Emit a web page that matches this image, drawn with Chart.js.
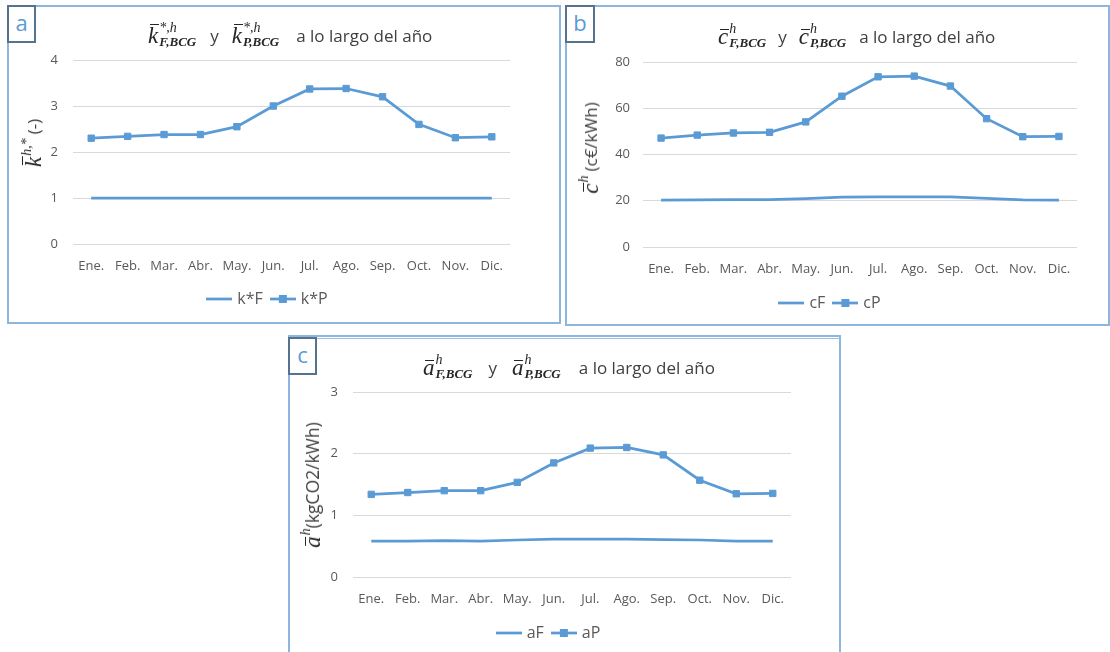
<!DOCTYPE html>
<html>
<head>
<meta charset="utf-8">
<script src="https://cdn.jsdelivr.net/npm/chart.js@4.4.1/dist/chart.umd.min.js"></script>
<style>
  body { margin: 0; width: 1110px; height: 652px; background: #fff; position: relative; overflow: hidden; font-family: 'Open Sans', sans-serif; }
  .panel { position: absolute; box-sizing: border-box; border: 2px solid #8db6df; }
  .tag { position: absolute; box-sizing: border-box; border: 2px solid #55728f; background: #fff; color: #5b9bd5; font-size: 22px; text-align: center; line-height: 31px; }
  canvas { position: absolute; }
  .title { position: absolute; height: 30px; display: flex; align-items: center; white-space: nowrap; color: #404040; font-size: 17px; }
  .ytitle { position: absolute; display: flex; align-items: center; white-space: nowrap; color: #404040; font-size: 17px; transform: translate(-50%, -50%) rotate(-90deg); }
  .m { font-family: 'Liberation Serif', serif; font-style: italic; font-size: 23px; line-height: 23px; position: relative; color: #262626; }
  .bar::before { content: ''; position: absolute; left: 2px; width: 9px; border-top: 1.6px solid #262626; }
  .bk::before { top: 0px; }
  .bc::before { top: 4px; }
  .ss { display: inline-flex; flex-direction: column; font-family: 'Liberation Serif', serif; font-style: italic; font-size: 14px; line-height: 14px; margin-left: 1px; color: #262626; }
  .ss .sub { font-weight: bold; font-size: 13px; }
  .sep { margin: 0 12px; }
</style>
</head>
<body>

<div class="panel" style="left:7px; top:5px; width:554px; height:319px;"></div>
<div class="panel" style="left:565px; top:5px; width:545px; height:321px;"></div>
<div class="panel" style="left:288px; top:335px; width:553px; height:330px;"></div>
<div style="position:absolute; left:288px; top:338px; width:553px; border-top:1px solid #9dbfe0;"></div>

<canvas id="chartA" width="553" height="318" style="left:7px; top:5px;"></canvas>
<canvas id="chartB" width="544" height="320" style="left:565px; top:5px;"></canvas>
<canvas id="chartC" width="552" height="317" style="left:288px; top:335px;"></canvas>

<div class="tag" style="left:7px; top:5px; width:29px; height:38px;">a</div>
<div class="tag" style="left:565px; top:5px; width:30px; height:38px;">b</div>
<div class="tag" style="left:288px; top:337px; width:29px; height:38px;">c</div>

<div class="title" style="left:148px; top:20px;">
  <span class="m bar bk">k</span><span class="ss"><span>*,h</span><span class="sub">F,BCG</span></span>
  <span class="sep" style="margin:0 13px 0 14px;">y</span>
  <span class="m bar bk">k</span><span class="ss"><span>*,h</span><span class="sub">P,BCG</span></span>
  <span style="margin-left:17px;">a lo largo del año</span>
</div>
<div class="title" style="left:718px; top:21px;">
  <span class="m bar bc">c</span><span class="ss"><span>h</span><span class="sub">F,BCG</span></span>
  <span class="sep">y</span>
  <span class="m bar bc">c</span><span class="ss"><span>h</span><span class="sub">P,BCG</span></span>
  <span style="margin-left:13px;">a lo largo del año</span>
</div>
<div class="title" style="left:423px; top:352px;">
  <span class="m bar bc">a</span><span class="ss"><span>h</span><span class="sub">F,BCG</span></span>
  <span class="sep" style="margin:0 15px 0 16px;">y</span>
  <span class="m bar bc">a</span><span class="ss"><span>h</span><span class="sub">P,BCG</span></span>
  <span style="margin-left:18px;">a lo largo del año</span>
</div>

<div class="ytitle" style="left:33px; top:143px;">
  <span class="m bar bk">k</span><span class="ss" style="margin-bottom:12px;"><span>h,*</span></span>
  <span style="margin-left:4px;">(-)</span>
</div>
<div class="ytitle" style="left:590px; top:148px;">
  <span class="m bar bc">c</span><span class="ss" style="margin-bottom:12px;"><span>h</span></span>
  <span style="margin-left:4px;">(c€/kWh)</span>
</div>
<div class="ytitle" style="left:312px; top:485px; font-size:17.5px;">
  <span class="m bar bc">a</span><span class="ss" style="margin-bottom:12px;"><span>h</span></span>
  <span>(kgCO2/kWh)</span>
</div>

<script>
// datos
const months = ['Ene.', 'Feb.', 'Mar.', 'Abr.', 'May.', 'Jun.', 'Jul.', 'Ago.', 'Sep.', 'Oct.', 'Nov.', 'Dic.'];

const kF = [1, 1, 1, 1, 1, 1, 1, 1, 1, 1, 1, 1];
const kP = [2.3, 2.34, 2.38, 2.38, 2.55, 3.0, 3.37, 3.38, 3.2, 2.6, 2.31, 2.33];

const cF = [20.3, 20.4, 20.5, 20.5, 20.9, 21.6, 21.7, 21.7, 21.7, 21.0, 20.4, 20.3];
const cP = [47.1, 48.4, 49.3, 49.6, 54.1, 65.2, 73.6, 73.9, 69.6, 55.5, 47.7, 47.8];

const aF = [0.58, 0.58, 0.59, 0.58, 0.6, 0.615, 0.615, 0.615, 0.605, 0.6, 0.58, 0.58];
const aP = [1.34, 1.37, 1.4, 1.4, 1.535, 1.85, 2.09, 2.1, 1.98, 1.57, 1.35, 1.355];

const blue = '#5b9bd5';
const grey = '#595959';

function legendIcon(withMarker) {
  const c = document.createElement('canvas');
  c.width = 26;
  c.height = 10;
  const g = c.getContext('2d');
  g.strokeStyle = blue;
  g.lineWidth = 2.75;
  g.beginPath();
  g.moveTo(0, 5);
  g.lineTo(26, 5);
  g.stroke();
  if (withMarker) {
    g.fillStyle = blue;
    g.fillRect(9, 1, 8, 8);
  }
  return c;
}
const icons = [legendIcon(false), legendIcon(true)];

function makeChart(id, names, fData, pData, yMax, yStep, lay) {
  const ctx = document.getElementById(id).getContext('2d');
  return new Chart(ctx, {
    type: 'line',
    data: {
      labels: months,
      datasets: [
        { label: names[0], data: fData, borderColor: blue, backgroundColor: blue, borderWidth: 2.75, pointRadius: 0 },
        { label: names[1], data: pData, borderColor: blue, backgroundColor: blue, borderWidth: 2.75,
          pointStyle: 'rect', pointRadius: 4.5, pointBorderWidth: 1 }
      ]
    },
    options: {
      responsive: false,
      animation: false,
      // el padding izquierdo solo desplaza la leyenda; el eje y ocupa el resto
      layout: { padding: { left: 20, right: lay.right, top: lay.top, bottom: lay.bottom } },
      plugins: {
        tooltip: { enabled: false },
        legend: {
          position: 'bottom',
          labels: {
            usePointStyle: true,
            pointStyleWidth: 20,
            padding: 10,
            color: grey,
            font: { family: 'Open Sans', size: 16 },
            generateLabels: chart => chart.data.datasets.map((ds, i) => ({
              text: ds.label, pointStyle: icons[i], fillStyle: blue, strokeStyle: blue,
              lineWidth: 0, hidden: false, datasetIndex: i, fontColor: grey
            }))
          }
        }
      },
      scales: {
        x: {
          offset: true,
          grid: { display: false, drawTicks: false },
          border: { display: false },
          ticks: { color: grey, padding: 14, maxRotation: 0, autoSkip: false, font: { family: 'Open Sans', size: 13 } },
          afterFit: s => { s.height = lay.xh; }
        },
        y: {
          min: 0,
          max: yMax,
          grid: { color: '#d9d9d9', drawTicks: false },
          border: { display: false },
          ticks: { stepSize: yStep, color: grey, padding: lay.yp, font: { family: 'Open Sans', size: 13 } },
          afterFit: s => { s.width = lay.left - 20; }
        }
      }
    }
  });
}

makeChart('chartA', ['k*F', 'k*P'], kF, kP, 4, 1, { left: 66, right: 50, top: 55, bottom: 6, xh: 37, yp: 15 });
makeChart('chartB', ['cF', 'cP'], cF, cP, 80, 20, { left: 78, right: 32, top: 57, bottom: 4, xh: 38, yp: 13 });
makeChart('chartC', ['aF', 'aP'], aF, aP, 3, 1, { left: 65, right: 49, top: 57, bottom: 1, xh: 38, yp: 15 });
</script>
</body>
</html>
